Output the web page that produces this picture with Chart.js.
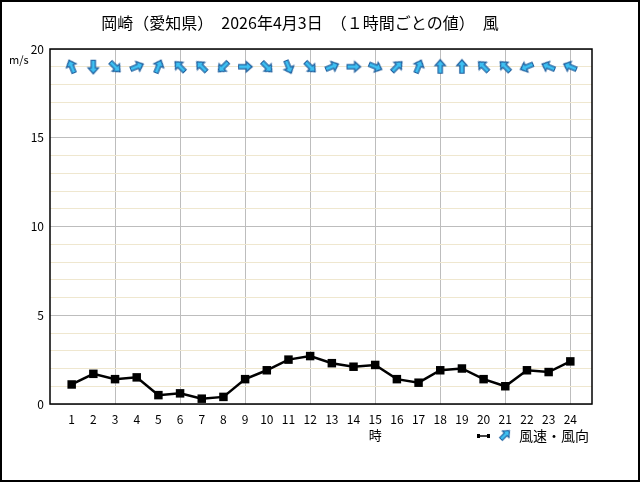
<!DOCTYPE html>
<html>
<head>
<meta charset="utf-8">
<script src="https://cdn.jsdelivr.net/npm/chart.js@4"></script>
<style>
  html, body { margin: 0; padding: 0; background: #fff; }
  #wrap { width: 640px; height: 482px; position: relative; }
  #wind-chart { display: block; }
</style>
</head>
<body>
<div id="wrap"><canvas id="wind-chart" width="640" height="482"></canvas></div>
<script>
const hours = [1, 2, 3, 4, 5, 6, 7, 8, 9, 10, 11, 12, 13, 14, 15, 16, 17, 18, 19, 20, 21, 22, 23, 24];
const windSpeed = [1.1, 1.7, 1.4, 1.5, 0.5, 0.6, 0.3, 0.4, 1.4, 1.9, 2.5, 2.7, 2.3, 2.1, 2.2, 1.4, 1.2, 1.9, 2.0, 1.4, 1.0, 1.9, 1.8, 2.4];
const windDir = ["南南東", "北", "北西", "西南西", "南南西", "南東", "南東", "北東", "西", "北西", "北北西", "北西",
                 "西南西", "西", "西北西", "南西", "南南西", "南", "南", "南東", "南東", "東北東", "東南東", "東南東"];
const yLabels = [0, 5, 10, 15, 20];

const compass = ["北", "北北東", "北東", "東北東", "東", "東南東", "南東", "南南東",
                 "南", "南南西", "南西", "西南西", "西", "西北西", "北西", "北北西"];

const jpFont = '"Noto Sans CJK JP", "DejaVu Sans", sans-serif';

// arrow pointing up, rotated per point by chart.js
function makeArrow(){
    const c = document.createElement('canvas');
    c.width = 18;
    c.height = 18;
    const g = c.getContext('2d');
    g.translate(9, 9);
    g.beginPath();
    g.moveTo(0, -7);
    g.lineTo(5.2, -1.2);
    g.lineTo(2.1, -1.2);
    g.lineTo(2.1, 6.5);
    g.lineTo(-2.1, 6.5);
    g.lineTo(-2.1, -1.2);
    g.lineTo(-5.2, -1.2);
    g.closePath();
    g.fillStyle = '#3ec0f2';
    g.fill();
    g.lineWidth = 1.2;
    g.strokeStyle = '#1d5c9c';
    g.stroke();
    return c;
}
const arrowImg = makeArrow();

function arrowRotation(dir){
    const idx = compass.indexOf(dir);
    return (idx * 22.5 + 180) % 360;
}

const ARROW_ROW = 19;

const extras = {
    id: 'extras',
    afterDraw(chart){
        const ctx = chart.ctx;
        const area = chart.chartArea;
        ctx.save();
        // plot frame
        ctx.strokeStyle = '#000';
        ctx.lineWidth = 1.5;
        ctx.strokeRect(area.left, area.top, area.right - area.left, area.bottom - area.top);
        // outer frame
        ctx.lineWidth = 2;
        ctx.strokeRect(1, 1, 638, 480);

        ctx.fillStyle = '#000';
        ctx.textBaseline = 'middle';
        ctx.textAlign = 'center';
        ctx.font = '16px ' + jpFont;
        ctx.fillText('岡崎（愛知県）　2026年4月3日　（１時間ごとの値）　風', 300, 23);

        ctx.font = '11px ' + jpFont;
        ctx.textAlign = 'left';
        ctx.fillText('m/s', 9, 60);

        ctx.font = '13px ' + jpFont;
        ctx.textAlign = 'center';
        const xs = chart.scales.x;
        ctx.fillText('時', xs.getPixelForValue(15), 435);

        // legend
        ctx.strokeStyle = '#000';
        ctx.lineWidth = 1.5;
        ctx.beginPath();
        ctx.moveTo(478, 436);
        ctx.lineTo(489, 436);
        ctx.stroke();
        ctx.fillRect(477, 434, 3, 4);
        ctx.fillRect(487, 434, 3, 4);
        ctx.translate(505, 435);
        ctx.rotate(Math.PI / 4);
        ctx.drawImage(arrowImg, -8, -8, 16, 16);
        ctx.setTransform(1, 0, 0, 1, 0, 0);
        ctx.textAlign = 'left';
        ctx.font = '14px ' + jpFont;
        ctx.fillText('風速・風向', 519, 436);
        ctx.restore();
    }
};

new Chart(document.getElementById('wind-chart'), {
    type: 'line',
    data: {
        datasets: [{
            label: '風速',
            data: hours.map((h, i) => ({x: h, y: windSpeed[i]})),
            borderColor: '#000',
            backgroundColor: '#000',
            borderWidth: 2.5,
            pointStyle: 'rect',
            pointRadius: 6,
            pointBorderWidth: 0,
            tension: 0
        }, {
            label: '風向',
            data: hours.map(h => ({x: h, y: ARROW_ROW})),
            showLine: false,
            pointStyle: arrowImg,
            rotation: windDir.map(arrowRotation)
        }]
    },
    options: {
        responsive: false,
        animation: false,
        layout: { padding: { top: 49, right: 48, bottom: 48, left: 0 } },
        plugins: { legend: { display: false }, tooltip: { enabled: false } },
        scales: {
            x: {
                type: 'linear',
                min: 0,
                max: 25,
                afterFit(s){ s.height = 30; },
                afterBuildTicks(s){ s.ticks = Array.from({length: 26}, (_, i) => ({value: i})); },
                border: { display: false },
                grid: {
                    drawTicks: false,
                    color: c => (c.tick.value > 0 && c.tick.value < 25 && c.tick.value % 3 === 0) ? '#bdbdbd' : 'rgba(0,0,0,0)'
                },
                ticks: {
                    padding: 8,
                    maxRotation: 0,
                    autoSkip: false,
                    color: '#000',
                    font: { family: jpFont, size: 12 },
                    callback: v => hours.includes(v) ? String(v) : ''
                }
            },
            y: {
                min: 0,
                max: 20,
                afterFit(s){ s.width = 50; },
                afterBuildTicks(s){ s.ticks = Array.from({length: 21}, (_, i) => ({value: i})); },
                border: { display: false },
                grid: {
                    drawTicks: false,
                    color: c => c.tick.value % 5 === 0 ? '#bdbdbd' : '#efe7cf'
                },
                ticks: {
                    padding: 6,
                    autoSkip: false,
                    color: '#000',
                    font: { family: jpFont, size: 12 },
                    callback: v => yLabels.includes(v) ? String(v) : ''
                }
            }
        }
    },
    plugins: [extras]
});
</script>
</body>
</html>
